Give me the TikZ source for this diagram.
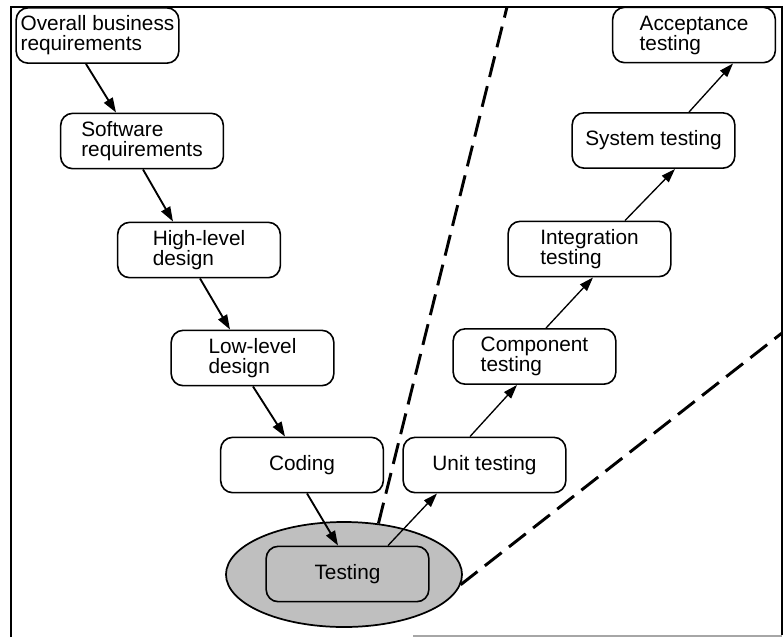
\documentclass[tikz,border=0pt]{standalone}
\usepackage{fontspec}
\setmainfont{Liberation Sans}
\usetikzlibrary{arrows.meta,shapes.geometric,calc}
\begin{document}
\begin{tikzpicture}[x=0.75pt,y=-0.75pt,
  box/.style={draw, line width=1.2pt, rounded corners=9pt, minimum width=122pt,
    minimum height=41.5pt, align=left, inner sep=2pt,
    font=\fontsize{15.6}{15}\selectfont},
  arr/.style={line width=1.4pt, -{Triangle[length=11pt,width=7.5pt]}},
  arrr/.style={line width=1pt, -{Triangle[length=10.5pt,width=7pt]}},
  dsh/.style={line width=2.2pt, dash pattern=on 16pt off 7pt}]
\useasboundingbox (0,0) rectangle (783,637);
% frame
\draw[line width=1.2pt] (11,637) -- (11,7) -- (782,7) -- (782,635);
\draw[black!35, line width=0.8pt] (413,636) -- (782,636);
% ellipse
\node[ellipse, draw, line width=1.3pt, fill=black!25, minimum width=177pt,
  minimum height=78.75pt, inner sep=0pt] (ell) at (344,574.5) {};
% nodes
\node[box] (obr) at (97.5,35.5) {Overall business\\requirements};
\node[box] (sr) at (142,141) {Software\\requirements};
\node[box] (hld) at (199,250) {High-level\\design};
\node[box] (lld) at (252.5,358) {Low-level\\design};
\node[box] (cod) at (302,465) {Coding};
\node[box] (tst) at (347.5,574) {Testing};
\node[box] (unit) at (484.5,465) {Unit testing};
\node[box] (comp) at (534.5,356.5) {Component\\testing};
\node[box] (integ) at (589.5,249) {Integration\\testing};
\node[box] (sys) at (653.5,140.5) {System testing};
\node[box] (acc) at (694,35) {Acceptance\\testing};
% arrows
\draw[arr] ($(obr.south)+(-11.5,0)$) -- ($(sr.north)+(-26,0)$);
\draw[arr] ($(sr.south)+(1,0)$) -- ($(hld.north)+(-26,0)$);
\draw[arr] ($(hld.south)+(1,0)$) -- ($(lld.north)+(-22.5,0)$);
\draw[arr] ($(lld.south)+(0.5,0)$) -- ($(cod.north)+(-17,0)$);
\draw[arr] ($(cod.south)+(5,0)$) -- ($(tst.north)+(-9.5,0)$);
\draw[arrr] ($(tst.north)+(40.5,0)$) -- ($(unit.south)+(-47.5,0)$);
\draw[arrr] ($(unit.north)+(-14.5,0)$) -- ($(comp.south)+(-17.5,0)$);
\draw[arrr] ($(comp.north)+(11.5,0)$) -- ($(integ.south)+(3.5,0)$);
\draw[arrr] ($(integ.north)+(35.5,0)$) -- ($(sys.south)+(21.5,0)$);
\draw[arrr] ($(sys.north)+(35.5,0)$) -- ($(acc.south)+(39,0)$);
% dashed lines
\coordinate (d1) at (507,7);
\coordinate (d2) at (782,333);
\draw[dsh] (ell.56) -- (d1);
\draw[dsh] (ell.-5) -- (d2);
\end{tikzpicture}
\end{document}
